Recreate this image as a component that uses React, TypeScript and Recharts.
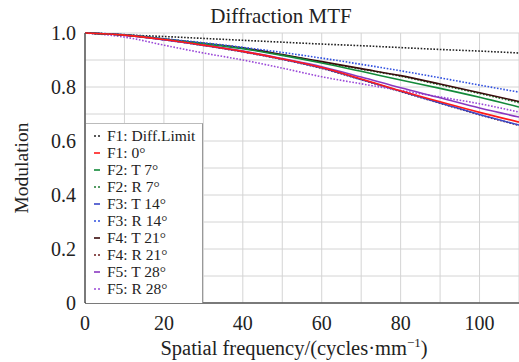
import React from 'react'
import { LineChart, Line, XAxis, YAxis, CartesianGrid, Label } from 'recharts'

const FONT = 'Liberation Serif, Tinos, DejaVu Serif, Times New Roman, serif'

const freq = [0, 10, 20, 30, 40, 50, 60, 70, 80, 90, 100, 110]
const xTicks = [0, 10, 20, 30, 40, 50, 60, 70, 80, 90, 100, 110]
const xLabels = [0, 20, 40, 60, 80, 100]
const yTicks = [0, 0.1, 0.2, 0.3, 0.4, 0.5, 0.6, 0.7, 0.8, 0.9, 1.0]
const yLabels = ['0', '0.2', '0.4', '0.6', '0.8', '1.0']

const diffLimit = [1, 0.993, 0.987, 0.98, 0.973, 0.966, 0.959, 0.953, 0.946, 0.939, 0.933, 0.926]
const f1 = [1, 0.992, 0.976, 0.955, 0.932, 0.904, 0.872, 0.83, 0.786, 0.745, 0.706, 0.67]
const f2T = [1, 0.993, 0.978, 0.961, 0.942, 0.917, 0.889, 0.858, 0.826, 0.795, 0.762, 0.726]
const f2R = [1, 0.993, 0.978, 0.962, 0.944, 0.919, 0.892, 0.866, 0.84, 0.808, 0.776, 0.742]
const f3T = [1, 0.992, 0.975, 0.954, 0.931, 0.903, 0.87, 0.828, 0.784, 0.741, 0.698, 0.659]
const f3R = [1, 0.994, 0.979, 0.964, 0.947, 0.928, 0.907, 0.884, 0.86, 0.834, 0.807, 0.781]
const f4T = [1, 0.993, 0.978, 0.962, 0.945, 0.92, 0.894, 0.868, 0.842, 0.811, 0.779, 0.746]
const f4R = [1, 0.992, 0.975, 0.954, 0.93, 0.902, 0.869, 0.827, 0.783, 0.74, 0.697, 0.658]
const f5T = [1, 0.992, 0.975, 0.956, 0.933, 0.905, 0.875, 0.837, 0.797, 0.76, 0.722, 0.689]
const f5R = [1, 0.985, 0.955, 0.926, 0.9, 0.87, 0.838, 0.812, 0.787, 0.763, 0.738, 0.707]

const series = [
  { key: 'diff', name: 'F1: Diff.Limit', color: '#222222', dotted: true, values: diffLimit },
  { key: 'f1', name: 'F1: 0°', color: '#ff1a1a', dotted: false, values: f1 },
  { key: 'f2t', name: 'F2: T 7°', color: '#138a3a', dotted: false, values: f2T },
  { key: 'f2r', name: 'F2: R 7°', color: '#1e7a30', dotted: true, values: f2R },
  { key: 'f3t', name: 'F3: T 14°', color: '#3a48c8', dotted: false, values: f3T },
  { key: 'f3r', name: 'F3: R 14°', color: '#3050e0', dotted: true, values: f3R },
  { key: 'f4t', name: 'F4: T 21°', color: '#3a0c0c', dotted: false, values: f4T },
  { key: 'f4r', name: 'F4: R 21°', color: '#6a1a1a', dotted: true, values: f4R },
  { key: 'f5t', name: 'F5: T 28°', color: '#8a38c0', dotted: false, values: f5T },
  { key: 'f5r', name: 'F5: R 28°', color: '#9a48d8', dotted: true, values: f5R },
]

// draw order: bottom lines first, red on top
const drawOrder = ['diff', 'f4r', 'f3t', 'f5r', 'f5t', 'f2r', 'f4t', 'f2t', 'f3r', 'f1']

const data = freq.map((f, i) => {
  const row: Record<string, number> = { freq: f }
  series.forEach((s) => (row[s.key] = s.values[i]))
  return row
})

const XTick = (props: any) => {
  const { x, y, payload } = props
  if (!xLabels.includes(payload.value)) return null
  return (
    <text x={x} y={y + 19} textAnchor="middle" style={{ fontFamily: FONT }} fontSize={20} fill="#222">
      {payload.value}
    </text>
  )
}

const YTick = (props: any) => {
  const { x, y, payload } = props
  const label = yLabels.find((l) => Math.abs(parseFloat(l) - payload.value) < 1e-6)
  if (label === undefined) return null
  return (
    <text x={x - 1} y={y + 7} textAnchor="end" style={{ fontFamily: FONT }} fontSize={20} fill="#222">
      {label}
    </text>
  )
}

function LegendBox() {
  return (
    <div
      style={{
        position: 'absolute',
        left: 86,
        top: 123,
        width: 116,
        height: 179,
        background: '#fff',
        borderTop: '1px solid #bbb',
        borderRight: '1px solid #999',
        fontFamily: FONT,
        fontSize: 15.5,
        color: '#222',
      }}
    >
      {series.map((s, i) => (
        <div key={s.key} style={{ position: 'absolute', left: 0, top: 3 + i * 17, height: 17, width: 116 }}>
          <svg width={14} height={17} style={{ position: 'absolute', left: 4, top: 0 }}>
            <line
              x1={4}
              x2={10}
              y1={9}
              y2={9}
              stroke={s.color}
              strokeWidth={1.6}
              strokeDasharray={s.dotted ? '2 2' : undefined}
            />
          </svg>
          <span style={{ position: 'absolute', left: 21, top: 0, lineHeight: '17px', whiteSpace: 'nowrap' }}>
            {s.name}
          </span>
        </div>
      ))}
    </div>
  )
}

export default function App() {
  return (
    <div style={{ position: 'absolute', left: 0, top: 0, width: 519, height: 362, background: '#fff', fontFamily: FONT }}>
      <div
        style={{
          position: 'absolute',
          left: 181,
          width: 200,
          top: 4,
          textAlign: 'center',
          fontFamily: FONT,
          fontSize: 21,
          color: '#222',
        }}
      >
        Diffraction MTF
      </div>
      <LineChart width={519} height={362} data={data} margin={{ top: 33, right: 0, left: 0, bottom: 0 }}>
        <CartesianGrid stroke="#d4d4d4" strokeWidth={1} />
        <XAxis
          dataKey="freq"
          type="number"
          domain={[0, 110]}
          ticks={xTicks}
          tick={<XTick />}
          tickLine={false}
          axisLine={{ stroke: '#555', strokeWidth: 1.5 }}
          height={59}
          interval={0}
        >
          <Label
            content={() => (
              <text x={294} y={355} textAnchor="middle" style={{ fontFamily: FONT }} fontSize={20.5} fill="#222">
                Spatial frequency/(cycles·mm
                <tspan dy={-8} fontSize={13}>−1</tspan>
                <tspan dy={8}>)</tspan>
              </text>
            )}
          />
        </XAxis>
        <YAxis
          type="number"
          domain={[0, 1]}
          ticks={yTicks}
          tick={<YTick />}
          tickLine={false}
          axisLine={{ stroke: '#555', strokeWidth: 1.5 }}
          width={85}
          interval={0}
        >
          <Label
            content={() => (
              <text
                x={28}
                y={168}
                textAnchor="middle"
                style={{ fontFamily: FONT }}
                fontSize={19.5}
                fill="#222"
                transform="rotate(-90 28 168)"
              >
                Modulation
              </text>
            )}
          />
        </YAxis>
        {drawOrder.map((k) => {
          const s = series.find((x) => x.key === k)!
          return (
            <Line
              key={s.key}
              dataKey={s.key}
              name={s.name}
              type="monotone"
              stroke={s.color}
              strokeWidth={1.6}
              strokeDasharray={s.dotted ? '1.6 1.6' : undefined}
              dot={false}
              isAnimationActive={false}
            />
          )
        })}
      </LineChart>
      <LegendBox />
    </div>
  )
}
